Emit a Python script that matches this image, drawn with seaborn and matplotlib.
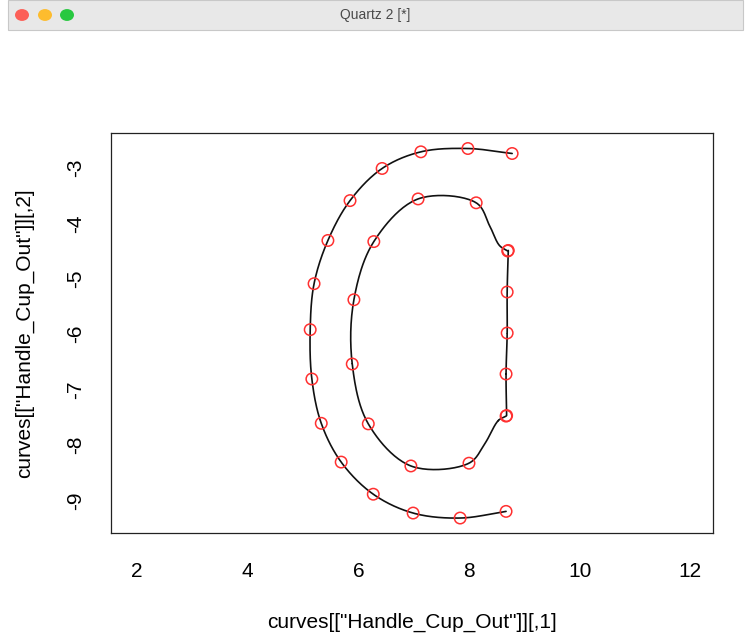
import numpy as np
import matplotlib
matplotlib.use("Agg")
import matplotlib.pyplot as plt
import seaborn as sns
from matplotlib.patches import Rectangle, Circle

sns.set_theme(style="white")
plt.rcParams["font.family"] = ["Liberation Sans", "DejaVu Sans"]

# Points of the "Handle_Cup_Out" curve
# outer arc (top-right end round to bottom-right end)
outer_x = [8.78, 7.98, 7.13, 6.43, 5.85, 5.45, 5.20, 5.13, 5.16, 5.33, 5.69, 6.27, 6.99, 7.84, 8.67]
outer_y = [-2.74, -2.65, -2.71, -3.01, -3.59, -4.31, -5.09, -5.92, -6.81, -7.61, -8.31, -8.89, -9.23, -9.32, -9.20]

# inner bowl (lower corner round to upper corner)
bowl_x = [8.67, 8.00, 6.95, 6.18, 5.89, 5.92, 6.28, 7.08, 8.13, 8.70]
bowl_y = [-7.48, -8.33, -8.38, -7.62, -6.54, -5.38, -4.33, -3.56, -3.63, -4.50]

# inner straight side (upper corner down to lower corner)
side_x = [8.71, 8.69, 8.69, 8.67, 8.68]
side_y = [-4.49, -5.24, -5.98, -6.72, -7.47]

# traced path of the bowl line, incl. the S-bends at the corners
bowl_line_x = [8.67, 8.53, 8.29, 8.00, 6.95, 6.18, 5.89, 5.92, 6.28, 7.08, 8.13, 8.38, 8.55, 8.70]
bowl_line_y = [-7.48, -7.56, -7.97, -8.33, -8.38, -7.62, -6.54, -5.38, -4.33, -3.56, -3.63, -4.06, -4.40, -4.50]

x_ticks = [2, 4, 6, 8, 10, 12]
y_ticks = [-9, -8, -7, -6, -5, -4, -3]
x_label = 'curves[["Handle_Cup_Out"]][,1]'
y_label = 'curves[["Handle_Cup_Out"]][,2]'


def smooth(xs, ys, n=25):
    # centripetal catmull-rom through the given points (drawing only)
    P = np.column_stack([xs, ys]).astype(float)
    P = np.vstack([2 * P[0] - P[1], P, 2 * P[-1] - P[-2]])
    out = []
    for i in range(1, len(P) - 2):
        p0, p1, p2, p3 = P[i - 1:i + 3]
        t0 = 0.0
        t1 = t0 + np.linalg.norm(p1 - p0) ** 0.5
        t2 = t1 + np.linalg.norm(p2 - p1) ** 0.5
        t3 = t2 + np.linalg.norm(p3 - p2) ** 0.5
        t = np.linspace(t1, t2, n)[:, None]
        a1 = (t1 - t) / (t1 - t0) * p0 + (t - t0) / (t1 - t0) * p1
        a2 = (t2 - t) / (t2 - t1) * p1 + (t - t1) / (t2 - t1) * p2
        a3 = (t3 - t) / (t3 - t2) * p2 + (t - t2) / (t3 - t2) * p3
        b1 = (t2 - t) / (t2 - t0) * a1 + (t - t0) / (t2 - t0) * a2
        b2 = (t3 - t) / (t3 - t1) * a2 + (t - t1) / (t3 - t1) * a3
        out.append((t2 - t) / (t2 - t1) * b1 + (t - t1) / (t2 - t1) * b2)
    c = np.vstack(out)
    return c[:, 0], c[:, 1]


fig = plt.figure(figsize=(7.51, 6.37), dpi=100)
fig.patch.set_facecolor("white")

# window title bar
fig.patches.append(Rectangle((8 / 751, 1 - 30 / 637), 735 / 751, 30 / 637,
                             transform=fig.transFigure, facecolor="#e8e8e8",
                             edgecolor="#c8c8c8", lw=0.8))
for cx, col in zip([22, 45, 67], ["#fc5f57", "#fdbc2e", "#28c840"]):
    fig.patches.append(Circle((cx / 751, 1 - 15 / 637), 7 / 751,
                              transform=fig.transFigure, facecolor=col, edgecolor="none"))
fig.text(375 / 751, 1 - 15 / 637, "Quartz 2 [*]", ha="center", va="center",
         fontsize=10, color="#4a4a4a")

ax = fig.add_axes([111 / 751, 1 - 533 / 637, 602 / 751, 400 / 637])

for lx, ly in [(outer_x, outer_y), (bowl_line_x, bowl_line_y), (side_x, side_y)]:
    sx, sy = smooth(lx, ly)
    sns.lineplot(x=sx, y=sy, sort=False, estimator=None, color="#111111", lw=1.2, ax=ax)

pts_x = outer_x + bowl_x + side_x
pts_y = outer_y + bowl_y + side_y
sns.scatterplot(x=pts_x, y=pts_y, marker="o", s=68, facecolors="none",
                edgecolor="#ff3030", linewidth=1.1, ax=ax, zorder=3)

ax.set_xlim(1.53, 12.41)
ax.set_ylim(-9.59, -2.37)
ax.set_xticks(x_ticks)
ax.set_yticks(y_ticks)
ax.set_xticklabels([str(v) for v in x_ticks])
ax.set_yticklabels([str(v) for v in y_ticks])

for s in ax.spines.values():
    s.set_visible(True)
    s.set_color("#222222")
    s.set_linewidth(0.9)

ax.tick_params(axis="both", which="major", direction="out", length=9, width=0.9,
               color="#222222", labelsize=15, labelcolor="black")
ax.tick_params(axis="x", pad=12)
ax.tick_params(axis="y", pad=9.8, labelrotation=90)
for lbl in ax.get_yticklabels():
    lbl.set_va("center")

ax.set_xlabel(x_label, fontsize=15, color="black")
ax.set_ylabel(y_label, fontsize=15, color="black")
ax.xaxis.set_label_coords(0.5, (533 - 628) / 400)
ax.xaxis.label.set_va("baseline")
ax.yaxis.set_label_coords((30 - 111) / 602, 0.5)
ax.yaxis.label.set_va("baseline")
ax.grid(False)

fig.savefig("out.png", dpi=100)
